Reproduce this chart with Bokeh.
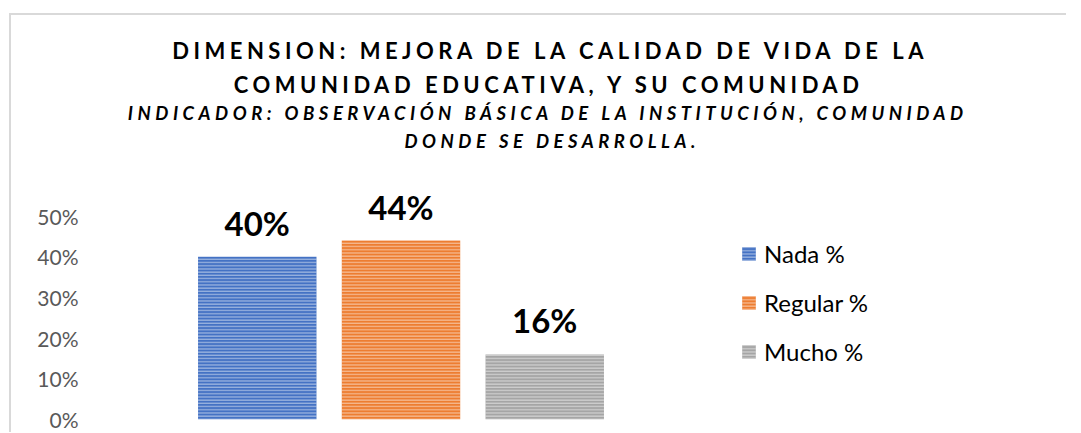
from bokeh.plotting import figure
from bokeh.models import (ColumnDataSource, FactorRange, FixedTicker, NumeralTickFormatter,
                          LabelSet, Label, Range1d)
from bokeh.core.properties import value
from bokeh.transform import factor_cmap
from bokeh.layouts import column, row
from bokeh.embed import file_html
from bokeh.resources import INLINE

# ---- data ----
categories = ["Nada %", "Regular %", "Mucho %"]
values = [0.40, 0.44, 0.16]
value_labels = ["40%", "44%", "16%"]
y_ticks = [0.0, 0.1, 0.2, 0.3, 0.4, 0.5]
title_lines = ["DIMENSION: MEJORA DE LA CALIDAD DE VIDA DE LA",
               "COMUNIDAD EDUCATIVA, Y SU COMUNIDAD"]
subtitle_lines = ["INDICADOR: OBSERVACIÓN BÁSICA DE LA INSTITUCIÓN, COMUNIDAD",
                  "DONDE SE DESARROLLA."]

bar_colors = ["#4472C4", "#ED7D31", "#A5A5A5"]
FONT = "Lato"

# ---- header (titles, letter-spaced) ----
HW, HH = 1055, 165
header = figure(width=HW, height=HH, output_backend="svg", toolbar_location=None,
                min_border=0, min_border_left=0, min_border_right=0,
                min_border_top=0, min_border_bottom=0,
                x_range=Range1d(0, 1), y_range=Range1d(0, 1),
                frame_align=False,
                styles={"letter-spacing": "4.5px"})
header.axis.visible = False
header.grid.visible = False
header.outline_line_color = None

title_pos = [(160.7, 129.7), (222.3, 95.7)]
for txt, (x, y) in zip(title_lines, title_pos):
    header.add_layout(Label(x=x, y=y, x_units="screen", y_units="screen", text=txt,
                            text_font=FONT, text_font_style="bold", text_font_size="22px",
                            text_color="#000000", text_align="left",
                            text_baseline="alphabetic"))
sub_pos = [(116.3, 68.0), (393.0, 40.0)]
for txt, (x, y) in zip(subtitle_lines, sub_pos):
    header.add_layout(Label(x=x, y=y, x_units="screen", y_units="screen", text=txt,
                            text_font=FONT, text_font_style="bold italic",
                            text_font_size="18.5px", text_color="#000000",
                            text_align="left", text_baseline="alphabetic"))

# ---- main chart ----
source = ColumnDataSource(dict(cat=categories, val=values, lab=value_labels))
MH = 252

def draw_bars(fig):
    return fig.vbar(x="cat", top="val", width=0.824, source=source,
                    fill_color=factor_cmap("cat", palette=bar_colors, factors=categories),
                    line_color=None,
                    hatch_pattern="horizontal_line", hatch_color="white", hatch_alpha=0.45,
                    hatch_scale=3.2, hatch_weight=1.4,
                    legend_field="cat")

p = figure(width=704, height=MH, output_backend="svg", toolbar_location=None,
           x_range=FactorRange(factors=categories, range_padding=0.688,
                               range_padding_units="absolute"),
           y_range=Range1d(0, 0.5878),
           min_border_left=75, min_border_right=0, min_border_top=0,
           min_border_bottom=13, frame_align=False)
p.outline_line_color = None
p.grid.visible = False
p.xaxis.visible = False

p.yaxis.ticker = FixedTicker(ticks=y_ticks)
p.yaxis.formatter = NumeralTickFormatter(format="0%")
p.yaxis.axis_line_color = None
p.yaxis.major_tick_line_color = None
p.yaxis.minor_tick_line_color = None
p.yaxis.major_tick_out = 0
p.yaxis.major_label_standoff = 8
p.yaxis.major_label_text_font = FONT
p.yaxis.major_label_text_font_size = "21px"
p.yaxis.major_label_text_color = "#595959"

draw_bars(p)
p.legend.visible = False

labels = LabelSet(x="cat", y="val", text="lab", source=source, y_offset=21,
                  text_align="center", text_baseline="alphabetic",
                  text_font=value(FONT), text_font_style="bold", text_font_size="33px",
                  text_color="#000000")
p.add_layout(labels)

# ---- legend panel (same bars, kept out of its visible range) ----
lg = figure(width=351, height=MH, output_backend="svg", toolbar_location=None,
            x_range=FactorRange(factors=categories), y_range=Range1d(1, 2),
            min_border=0, min_border_left=0, min_border_right=0,
            min_border_top=0, min_border_bottom=0, frame_align=False)
lg.axis.visible = False
lg.grid.visible = False
lg.outline_line_color = None
draw_bars(lg)

leg = lg.legend[0]
leg.location = (25, 65.5)
leg.orientation = "vertical"
leg.border_line_color = None
leg.background_fill_alpha = 0
leg.padding = 0
leg.margin = 0
leg.glyph_width = 17
leg.glyph_height = 17
leg.label_height = 30
leg.spacing = 19
leg.label_standoff = 7
leg.label_text_font = FONT
leg.label_text_font_size = "24px"
leg.label_text_color = "#000000"

layout = column(header, row(p, lg), margin=(13, 0, 0, 9),
                styles={"border-top": "2px solid #d9d9d9",
                        "border-left": "2px solid #d9d9d9"})

open("out.html", "w").write(file_html(layout, INLINE))
